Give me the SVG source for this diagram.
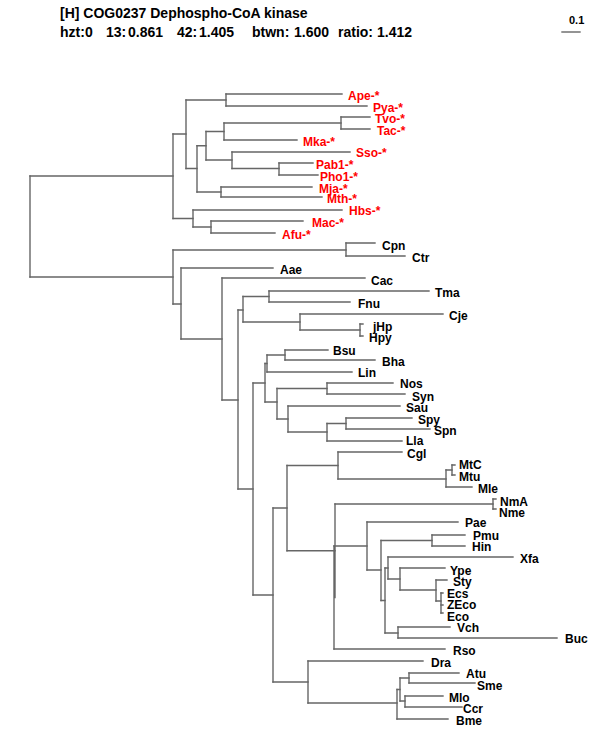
<svg xmlns="http://www.w3.org/2000/svg" width="600" height="750" viewBox="0 0 600 750">
<style>
text{font-family:"Liberation Sans",Arial,sans-serif;font-weight:bold;font-size:12px;fill:#000}
.arc{fill:#ff0000}
.hdr{font-size:14px}
.sc{font-size:11px}
.edge{fill:none;stroke:#666;stroke-width:1.4;stroke-linecap:square}
</style>
<rect width="600" height="750" fill="#fff"/>
<g id="header">
<text class="hdr" x="60" y="18">[H] COG0237 Dephospho-CoA kinase</text>
<text class="hdr" y="37"><tspan x="60">hzt:0</tspan><tspan x="106">13:</tspan><tspan x="128">0.861</tspan><tspan x="177">42:</tspan><tspan x="199">1.405</tspan><tspan x="252">btwn:</tspan><tspan x="294">1.600</tspan><tspan x="338">ratio:</tspan><tspan x="377">1.412</tspan></text>
</g>
<g id="scale">
<line x1="562" y1="32" x2="580" y2="32" class="edge"/>
<text class="sc" x="569" y="24">0.1</text>
</g>
<g id="connectors">
<path class="edge" d="M30 176V277M173 134V218.5M186 100V168.5M226 94V106M197 145.75V192M206 131.5V160M224 123V140M341 117V129M232 152V168.5M279 163V175M221 187V197M193 210V227M211 221V233M173 250V304M346 243V256M181 268V339M222 278V400M238 310V489M243 296.5V322M269 291V302M300 314V330M360 324V336M253 383V595M265 363.5V402M267 355V372M285 350V360M277 388.5V419M327 383V394M288 406V432M327 423.5V441M346 418V429M273 508V682M287 465.5V550.75M338 452V479M446 470V487M452 465V475M335 504V597.5M334 546V649M493 499V509M367 522V570M381 540.5V600.5M432 535V546M385 568V633M388 557V579M400 568V590M436 580V601M441 593V613M398 627V638M308 661V703M397 689.5V719M400 678V701M409 673V683M405 696V707"/>
<path class="edge" d="M30 176H173M30 277H173M173 134H186M173 218.5H193M186 100H226M186 168.5H197M226 94H342M226 106H367M197 145.75H206M197 192H221M206 131.5H224M206 160H232M224 123H341M224 140H297M341 117H370M341 129H370M232 152H350M232 168.5H279M279 163H313M279 175H318M221 187H312M221 197H322M193 210H342M193 227H211M211 221H303M211 233H275M173 250H346M173 304H181M346 243H375M346 256H405M181 268H273M181 339H222M222 278H365M222 400H238M238 310H243M238 489H253M243 296.5H269M243 322H300M269 291H429M269 302H350M300 314H443M300 330H360M360 324H363M360 336H363M253 383H265M253 595H273M265 363.5H267M265 402H277M267 355H285M267 372H352M285 350H328M285 360H375M277 388.5H327M277 419H288M327 383H393M327 394H405M288 406H400M288 432H327M327 423.5H346M327 441H402M346 418H412M346 429H430M273 508H287M273 682H308M287 465.5H338M287 550.75H335M338 452H402M338 479H446M446 470H452M446 487H472M452 465H455M452 475H455M335 504H493M334 546H367M334 649H445M493 499H496M493 509H496M367 522H458M367 570H381M381 540.5H432M381 600.5H385M432 535H465M432 546H465M385 568H388M385 633H398M388 557H513M388 579H400M400 568H445M400 590H436M436 580H447M436 601H441M441 593H443M441 605H443M441 613H443M398 627H450M398 638H557M308 661H423M308 703H397M397 689.5H400M397 719H448M400 678H409M400 701H405M409 673H459M409 683H475M405 696H443M405 707H462"/>
</g>
<g id="leaf-Ape"><text class="arc" x="348" y="100">Ape-*</text></g>
<g id="leaf-Pya"><text class="arc" x="373" y="111.5">Pya-*</text></g>
<g id="leaf-Tvo"><text class="arc" x="375" y="123">Tvo-*</text></g>
<g id="leaf-Tac"><text class="arc" x="377" y="135">Tac-*</text></g>
<g id="leaf-Mka"><text class="arc" x="303" y="146">Mka-*</text></g>
<g id="leaf-Sso"><text class="arc" x="356" y="157">Sso-*</text></g>
<g id="leaf-Pab1"><text class="arc" x="316" y="168.5">Pab1-*</text></g>
<g id="leaf-Pho1"><text class="arc" x="320" y="181">Pho1-*</text></g>
<g id="leaf-Mja"><text class="arc" x="319" y="192.5">Mja-*</text></g>
<g id="leaf-Mth"><text class="arc" x="327" y="202.5">Mth-*</text></g>
<g id="leaf-Hbs"><text class="arc" x="349" y="215">Hbs-*</text></g>
<g id="leaf-Mac"><text class="arc" x="312" y="227">Mac-*</text></g>
<g id="leaf-Afu"><text class="arc" x="282" y="238.5">Afu-*</text></g>
<g id="leaf-Cpn"><text x="382" y="250">Cpn</text></g>
<g id="leaf-Ctr"><text x="412" y="262">Ctr</text></g>
<g id="leaf-Aae"><text x="280" y="274">Aae</text></g>
<g id="leaf-Cac"><text x="371" y="285">Cac</text></g>
<g id="leaf-Tma"><text x="435" y="297">Tma</text></g>
<g id="leaf-Fnu"><text x="358" y="308">Fnu</text></g>
<g id="leaf-Cje"><text x="449" y="320">Cje</text></g>
<g id="leaf-jHp"><text x="373" y="331">jHp</text></g>
<g id="leaf-Hpy"><text x="369" y="342">Hpy</text></g>
<g id="leaf-Bsu"><text x="333" y="355">Bsu</text></g>
<g id="leaf-Bha"><text x="382" y="366">Bha</text></g>
<g id="leaf-Lin"><text x="358" y="377">Lin</text></g>
<g id="leaf-Nos"><text x="400" y="388">Nos</text></g>
<g id="leaf-Syn"><text x="412" y="401">Syn</text></g>
<g id="leaf-Sau"><text x="406" y="412">Sau</text></g>
<g id="leaf-Spy"><text x="418" y="424">Spy</text></g>
<g id="leaf-Spn"><text x="434" y="435">Spn</text></g>
<g id="leaf-Lla"><text x="406" y="445">Lla</text></g>
<g id="leaf-Cgl"><text x="407" y="458">Cgl</text></g>
<g id="leaf-MtC"><text x="459" y="469">MtC</text></g>
<g id="leaf-Mtu"><text x="459" y="481">Mtu</text></g>
<g id="leaf-Mle"><text x="478" y="493">Mle</text></g>
<g id="leaf-NmA"><text x="500" y="506">NmA</text></g>
<g id="leaf-Nme"><text x="499" y="517">Nme</text></g>
<g id="leaf-Pae"><text x="465" y="527">Pae</text></g>
<g id="leaf-Pmu"><text x="473" y="540">Pmu</text></g>
<g id="leaf-Hin"><text x="472" y="551">Hin</text></g>
<g id="leaf-Xfa"><text x="520" y="563">Xfa</text></g>
<g id="leaf-Ype"><text x="450" y="575">Ype</text></g>
<g id="leaf-Sty"><text x="453" y="586">Sty</text></g>
<g id="leaf-Ecs"><text x="447" y="598">Ecs</text></g>
<g id="leaf-ZEco"><text x="447" y="609">ZEco</text></g>
<g id="leaf-Eco"><text x="447" y="621">Eco</text></g>
<g id="leaf-Vch"><text x="457" y="632">Vch</text></g>
<g id="leaf-Buc"><text x="565" y="643">Buc</text></g>
<g id="leaf-Rso"><text x="453" y="655">Rso</text></g>
<g id="leaf-Dra"><text x="431" y="667">Dra</text></g>
<g id="leaf-Atu"><text x="466" y="678">Atu</text></g>
<g id="leaf-Sme"><text x="477" y="690">Sme</text></g>
<g id="leaf-Mlo"><text x="449" y="702">Mlo</text></g>
<g id="leaf-Ccr"><text x="463" y="713">Ccr</text></g>
<g id="leaf-Bme"><text x="456" y="725">Bme</text></g>
</svg>
